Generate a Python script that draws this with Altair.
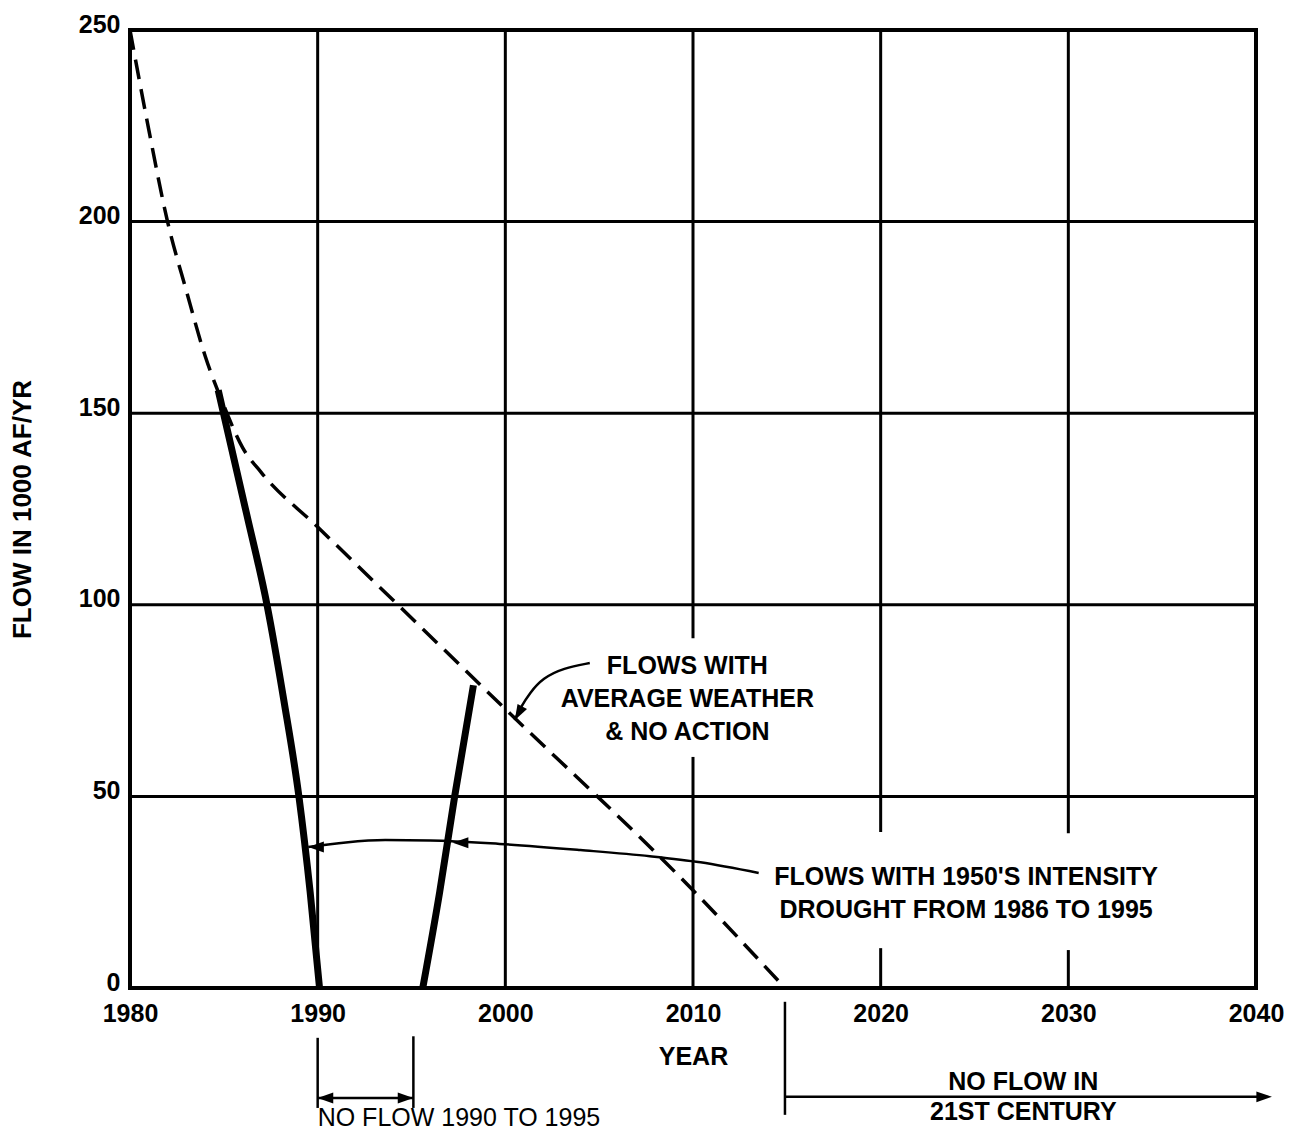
import altair as alt
import pandas as pd

FONT = "Liberation Sans"

# ---------------- data ----------------
year_ticks = [1980, 1990, 2000, 2010, 2020, 2030, 2040]
flow_ticks = [0, 50, 100, 150, 200, 250]

# flows with average weather & no action (dashed)
avg_year = [1980, 1981, 1982, 1983, 1984, 1985, 1986, 1987, 1990, 2000, 2010, 2014.9]
avg_flow = [250, 224, 200, 182, 165, 152, 141, 134.5, 120.3, 72.8, 25.5, 0]

# flows with 1950's intensity drought (thick)
dr1_year = [1984.7, 1986.2, 1987.3, 1988.2, 1989.0, 1989.6, 1990.1]
dr1_flow = [156, 124, 100, 75, 50, 25, 0]
dr2_year = [1995.6, 1996.5, 1997.3, 1998.3]
dr2_flow = [0, 25, 50, 79]

# grid lines (segments; some interrupted around labels)
grid_h_flow = [50, 100, 150, 200]
grid_v_year = [1990, 2000, 2010, 2010, 2020, 2020, 2030, 2030]
grid_v_lo = [0, 0, 0, 91.3, 0, 40.7, 0, 40.4]
grid_v_hi = [250, 250, 60.3, 250, 10.4, 250, 9.9, 250]

# annotation leader lines
lead_dr_year = [1989.5, 1991.5, 1993.6, 1996.0, 1999.7, 2004.0, 2007.7, 2010.4, 2013.5]
lead_dr_flow = [36.8, 38.0, 38.6, 38.5, 37.6, 36.0, 34.4, 32.8, 30.0]
lead_avg_year = [2004.5, 2003.1, 2002.0, 2001.3, 2000.8, 2000.5]
lead_avg_flow = [84.8, 83.5, 80.9, 77.0, 73.1, 69.9]

# arrow tips
tip_year = [1989.5, 1997.2, 2000.5, 1990.0, 1995.1, 2040.85]
tip_flow = [36.8, 37.9, 69.9, -28.7, -28.7, -28.4]
tip_angle = [180, 180, 119, 180, 0, 0]

# brackets below the axis
brk_v_year = [1990.0, 1995.1, 2014.9]
brk_v_lo = [-31.3, -31.3, -33.1]
brk_v_hi = [-13.0, -12.6, -3.6]
brk_h_year = [1990.0, 2014.9]
brk_h_year2 = [1995.1, 2040.6]
brk_h_flow = [-28.7, -28.4]

# text annotations
lab_text = ["FLOWS WITH", "AVERAGE WEATHER", "& NO ACTION",
            "FLOWS WITH 1950'S INTENSITY", "DROUGHT FROM 1986 TO 1995",
            "NO FLOW IN", "21ST CENTURY"]
lab_year = [2009.7, 2009.7, 2009.7, 2024.55, 2024.55, 2027.6, 2027.6]
lab_flow = [84.0, 75.4, 66.8, 29.0, 20.4, -24.5, -32.4]

note_text = ["NO FLOW 1990 TO 1995"]
note_year = [1990.0]
note_flow = [-34.0]

# ---------------- chart ----------------
xs = alt.Scale(domain=[1980, 2040], nice=False, zero=False)
ys = alt.Scale(domain=[0, 250], nice=False, zero=False)

x_axis = alt.Axis(values=year_ticks, format="d", title="YEAR", grid=False,
                  ticks=False, domain=False, labelFont=FONT, labelFontSize=25,
                  labelFontWeight="bold", labelColor="black", labelPadding=13,
                  titleFont=FONT, titleFontSize=25, titleFontWeight="bold",
                  titleColor="black", titlePadding=18, labelFlush=False)
y_axis = alt.Axis(values=flow_ticks, title="FLOW IN 1000 AF/YR", grid=False,
                  ticks=False, domain=False, labelFont=FONT, labelFontSize=25,
                  labelFontWeight="bold", labelColor="black", labelPadding=10,
                  labelOffset=-6, titleFont=FONT, titleFontSize=26,
                  titleFontWeight="bold", titleColor="black", titlePadding=43,
                  labelFlush=False)


def X():
    return alt.X("year:Q", scale=xs, axis=x_axis)


def Y():
    return alt.Y("flow:Q", scale=ys, axis=y_axis)


gh = pd.DataFrame({"flow": grid_h_flow, "year": [1980] * len(grid_h_flow),
                   "year2": [2040] * len(grid_h_flow)})
grid_h = alt.Chart(gh).mark_rule(color="black", strokeWidth=3).encode(
    x=X(), x2="year2:Q", y=Y())

gv = pd.DataFrame({"year": grid_v_year, "flow": grid_v_lo, "flow2": grid_v_hi})
grid_v = alt.Chart(gv).mark_rule(color="black", strokeWidth=3).encode(
    x=X(), y=Y(), y2="flow2:Q")

avg = alt.Chart(pd.DataFrame({"year": avg_year, "flow": avg_flow})).mark_line(
    color="black", strokeWidth=3.5, strokeDash=[20, 10], interpolate="monotone"
).encode(x=X(), y=Y())

dr1 = alt.Chart(pd.DataFrame({"year": dr1_year, "flow": dr1_flow})).mark_line(
    color="black", strokeWidth=7, interpolate="monotone"
).encode(x=X(), y=Y())

dr2 = alt.Chart(pd.DataFrame({"year": dr2_year, "flow": dr2_flow})).mark_line(
    color="black", strokeWidth=7, interpolate="monotone"
).encode(x=X(), y=Y())

lead_dr = alt.Chart(pd.DataFrame({"year": lead_dr_year, "flow": lead_dr_flow})).mark_line(
    color="black", strokeWidth=2.5, interpolate="monotone"
).encode(x=X(), y=Y())

lead_avg = alt.Chart(pd.DataFrame({"year": lead_avg_year, "flow": lead_avg_flow,
                                   "order": list(range(len(lead_avg_year)))})).mark_line(
    color="black", strokeWidth=2.5, interpolate="basis"
).encode(x=X(), y=Y(), order="order:Q")

tips = alt.Chart(pd.DataFrame({"year": tip_year, "flow": tip_flow, "angle": tip_angle})).mark_point(
    shape="M0,0 L-2.6,-0.9 L-2.6,0.9 Z", filled=True, color="black", size=144,
    opacity=1, strokeWidth=0
).encode(x=X(), y=Y(), angle=alt.Angle("angle:Q", scale=None))

bv = alt.Chart(pd.DataFrame({"year": brk_v_year, "flow": brk_v_lo, "flow2": brk_v_hi})).mark_rule(
    color="black", strokeWidth=2.5
).encode(x=X(), y=Y(), y2="flow2:Q")

bh = alt.Chart(pd.DataFrame({"year": brk_h_year, "year2": brk_h_year2, "flow": brk_h_flow})).mark_rule(
    color="black", strokeWidth=2.5
).encode(x=X(), x2="year2:Q", y=Y())

labels = alt.Chart(pd.DataFrame({"year": lab_year, "flow": lab_flow, "text": lab_text})).mark_text(
    font=FONT, fontSize=25, fontWeight="bold", color="black", align="center", baseline="middle"
).encode(x=X(), y=Y(), text="text:N")

notes = alt.Chart(pd.DataFrame({"year": note_year, "flow": note_flow, "text": note_text})).mark_text(
    font=FONT, fontSize=25, fontWeight="normal", color="black", align="left", baseline="middle"
).encode(x=X(), y=Y(), text="text:N")

chart = alt.layer(grid_h, grid_v, avg, dr1, dr2, lead_dr, lead_avg, tips, bv, bh, labels, notes).properties(
    width=1126, height=958,
    padding={"left": 122, "top": 22, "right": 30, "bottom": 142},
    autosize=alt.AutoSizeParams(type="none"),
    background="white",
).configure_view(stroke="black", strokeWidth=4)

chart.save("out.html", embed_options={"renderer": "svg", "actions": False})
